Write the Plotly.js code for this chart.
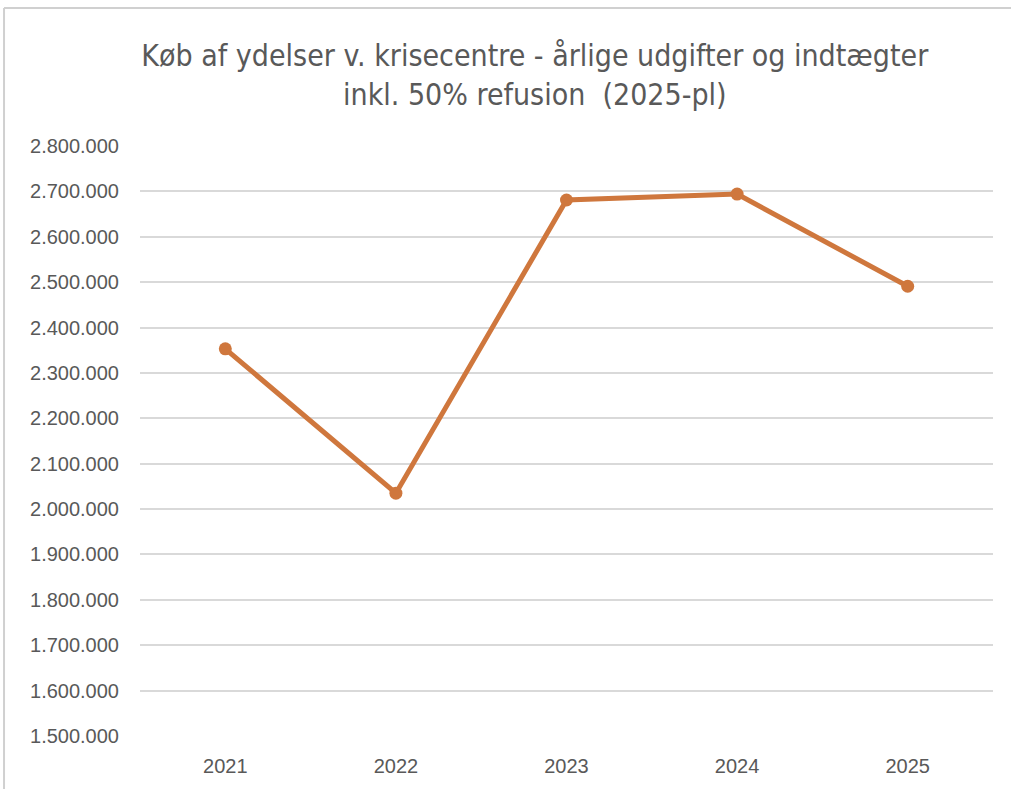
<!DOCTYPE html>
<html>
<head>
<meta charset="utf-8">
<script src="https://cdn.plot.ly/plotly-3.0.1.min.js"></script>
<style>
  html, body { margin: 0; padding: 0; background: #ffffff; }
  #chart { width: 1011px; height: 789px; }
</style>
</head>
<body>
<div id="chart"></div>
<script>
const years = ['2021', '2022', '2023', '2024', '2025'];
const values = [2353000, 2035000, 2681000, 2694000, 2491000];
const yTicks = [1500000, 1600000, 1700000, 1800000, 1900000, 2000000, 2100000, 2200000, 2300000, 2400000, 2500000, 2600000, 2700000, 2800000];
const chartTitle = 'Køb af ydelser v. krisecentre - årlige udgifter og indtægter<br>inkl. 50% refusion  (2025-pl)';

const trace = {
  type: 'scatter',
  mode: 'lines+markers',
  x: years,
  y: values,
  line: { color: '#CF773D', width: 5 },
  marker: { color: '#CF773D', size: 13 },
  hoverinfo: 'x+y'
};

const layout = {
  width: 1011,
  height: 789,
  paper_bgcolor: '#ffffff',
  plot_bgcolor: '#ffffff',
  separators: ',.',
  showlegend: false,
  margin: { l: 140, r: 18, t: 146, b: 53 },
  title: {
    text: chartTitle,
    font: { family: 'Liberation Sans Narrow, DejaVu Sans Condensed, sans-serif', size: 30, color: '#595959' },
    xref: 'container', x: 0.529, xanchor: 'center',
    yref: 'container', y: 0.916, yanchor: 'middle'
  },
  xaxis: {
    type: 'category',
    range: [-0.5, 4.5],
    showgrid: false,
    zeroline: false,
    showline: false,
    ticks: '',
    ticklabelstandoff: 16,
    tickfont: { family: 'Liberation Sans, Arial, sans-serif', size: 20, color: '#595959' }
  },
  yaxis: {
    range: [1500000, 2800000],
    tickvals: yTicks,
    tickformat: ',d',
    showgrid: true,
    gridcolor: '#d9d9d9',
    gridwidth: 2,
    zeroline: false,
    showline: false,
    ticks: '',
    ticklabelstandoff: 20,
    tickfont: { family: 'Liberation Sans, Arial, sans-serif', size: 20, color: '#595959' }
  },
  shapes: [
    { type: 'line', xref: 'paper', yref: 'paper', x0: -0.1594, x1: -0.1594, y0: -0.2, y1: 1.2339, line: { color: '#d0d0d0', width: 2 } },
    { type: 'line', xref: 'paper', yref: 'paper', x0: -0.1594, x1: 1.03, y0: 1.2339, y1: 1.2339, line: { color: '#d0d0d0', width: 2 } }
  ]
};

Plotly.newPlot('chart', [trace], layout, { displayModeBar: false, responsive: false });
</script>
</body>
</html>
